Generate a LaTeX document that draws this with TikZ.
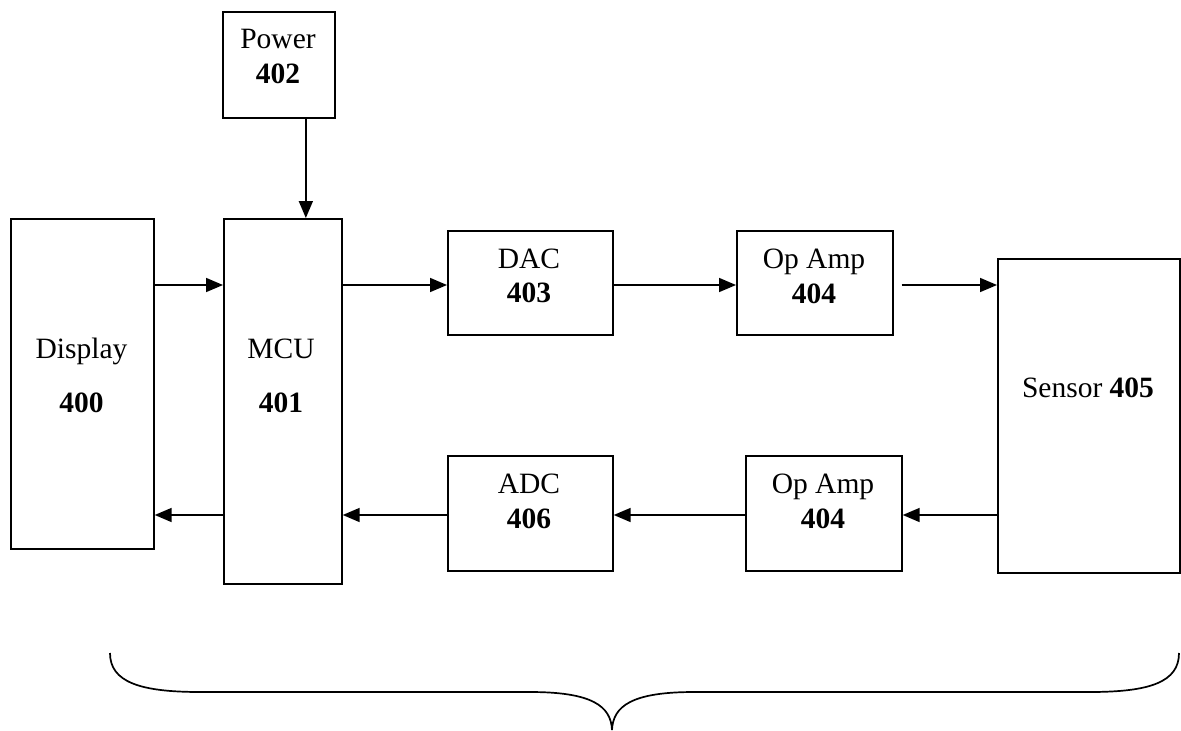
\documentclass[tikz,border=0pt]{standalone}
\usepackage{fontspec}
\setmainfont{Liberation Serif}
\usetikzlibrary{arrows.meta}
\begin{document}
\begin{tikzpicture}[x=1pt,y=-1pt,
  box/.style={draw=black,line width=1.7pt,rectangle,inner sep=0pt,anchor=north west},
  lbl/.style={anchor=base,inner sep=0pt,font=\fontsize{29.5}{34}\selectfont},
  arr/.style={line width=1.7pt,-{Triangle[length=17pt,width=14pt]}}]
\useasboundingbox (0,0) rectangle (1181,731);
% boxes
\node[box,minimum width=112pt,minimum height=106pt] (power) at (222,11) {};
\node[box,minimum width=143pt,minimum height=330pt] (disp) at (10,218) {};
\node[box,minimum width=118pt,minimum height=365pt] (mcu) at (223,218) {};
\node[box,minimum width=165pt,minimum height=104pt] (dac) at (447,230) {};
\node[box,minimum width=156pt,minimum height=104pt] (opa1) at (736,230) {};
\node[box,minimum width=182pt,minimum height=314pt] (sensor) at (997,258) {};
\node[box,minimum width=165pt,minimum height=115pt] (adc) at (447,455) {};
\node[box,minimum width=156pt,minimum height=115pt] (opa2) at (745,455) {};
% texts
\node[lbl] (powerA) at (278,48) {Power};
\node[lbl] (powerB) at (278,83) {\textbf{402}};
\node[lbl] (dispA) at (81.5,358) {Display};
\node[lbl] (dispB) at (81.5,412) {\textbf{400}};
\node[lbl] (mcuA) at (281,358) {MCU};
\node[lbl] (mcuB) at (281,412) {\textbf{401}};
\node[lbl] (dacA) at (529,268) {DAC};
\node[lbl] (dacB) at (529,302) {\textbf{403}};
\node[lbl] (opa1A) at (814,268) {Op Amp};
\node[lbl] (opa1B) at (814,303) {\textbf{404}};
\node[lbl] (adcA) at (529,493) {ADC};
\node[lbl] (adcB) at (529,528) {\textbf{406}};
\node[lbl] (opa2A) at (823,493) {Op Amp};
\node[lbl] (opa2B) at (823,528) {\textbf{404}};
\node[lbl] (sensorA) at (1088,397) {Sensor \textbf{405}};
% rows
\coordinate (top) at (0,285);
\coordinate (bot) at (0,515);
% connectors
\draw[arr] ([xshift=27pt]power.south) -- ([xshift=27pt]power.south |- mcu.north);
\draw[arr] (disp.east |- top) -- (mcu.west |- top);
\draw[arr] (mcu.east |- top) -- (dac.west |- top);
\draw[arr] (dac.east |- top) -- (opa1.west |- top);
\draw[arr] ([xshift=8pt]opa1.east |- top) -- (sensor.west |- top);
\draw[arr] (sensor.west |- bot) -- (opa2.east |- bot);
\draw[arr] (opa2.west |- bot) -- (adc.east |- bot);
\draw[arr] (adc.west |- bot) -- (mcu.east |- bot);
\draw[arr] (mcu.west |- bot) -- (disp.east |- bot);
% brace
\draw[line width=1.7pt] (110,653) .. controls (110,682) and (140,692) .. (200,692)
  -- (530,692) .. controls (592,692) and (611,706) .. (612,730)
  .. controls (613,706) and (632,692) .. (694,692)
  -- (1090,692) .. controls (1150,692) and (1179,682) .. (1179,653);
\end{tikzpicture}
\end{document}
